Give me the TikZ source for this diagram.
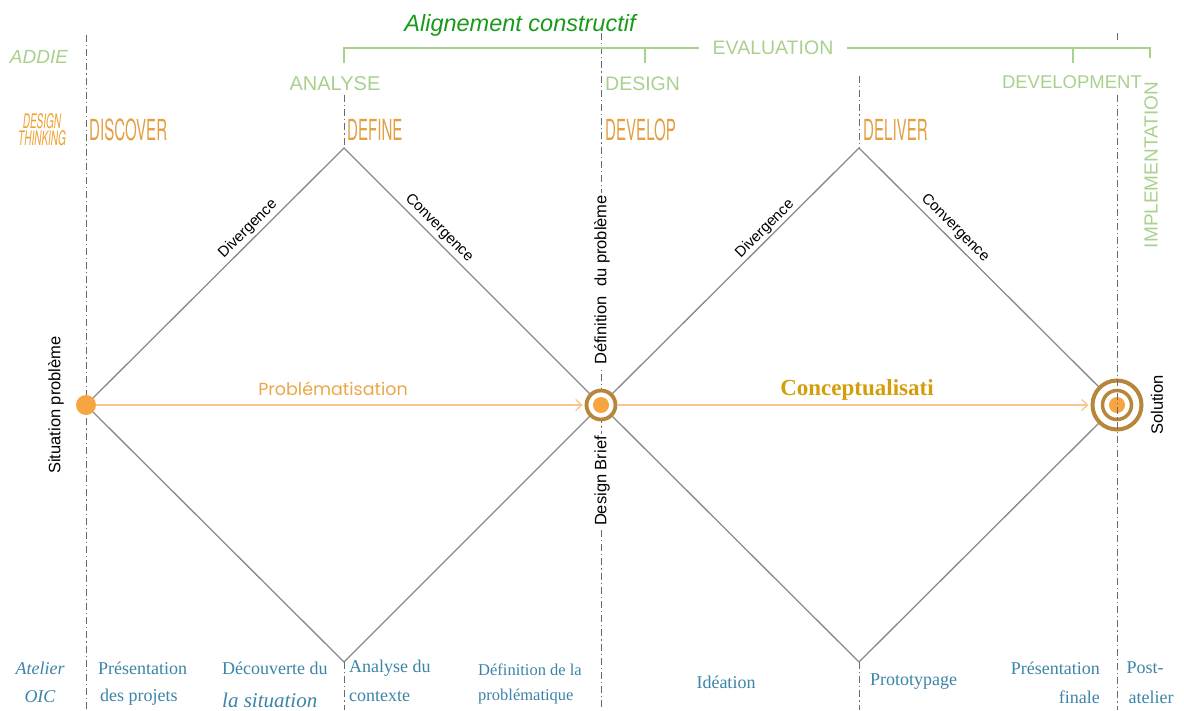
\documentclass[tikz,border=0pt]{standalone}
\usepackage{fontspec}
\usepackage{graphicx}
\setmainfont{Liberation Sans}
\newfontfamily\serifl{Liberation Serif}
\newfontfamily\heros{TeX Gyre Heros}
\newfontfamily\popp{Poppins}
\usetikzlibrary{arrows.meta}
\definecolor{lgreen}{HTML}{A9D18E}
\definecolor{dgreen}{HTML}{1A9A1A}
\definecolor{orng}{HTML}{F7A541}
\definecolor{headc}{HTML}{E3A043}
\definecolor{dtc}{HTML}{F0A030}
\definecolor{ringc}{HTML}{B8863B}
\definecolor{arrc}{HTML}{F6C68C}
\definecolor{probc}{HTML}{EBA848}
\definecolor{concc}{HTML}{D49E0A}
\definecolor{bluec}{HTML}{3C84A8}
\definecolor{edgec}{HTML}{8A8A8A}
\definecolor{dashc}{HTML}{6A6A6A}
\newcommand\fsz[1]{\fontsize{#1}{#1}\selectfont}
\newcommand\cond[2]{\scalebox{#1}[1]{#2}}
\begin{document}
\begin{tikzpicture}[x=1pt,y=-1pt,
  dd/.style={draw=dashc, line width=0.8pt, dash pattern=on 7pt off 3pt on 1.2pt off 3pt},
  edgeline/.style={draw=edgec, line width=1.3pt},
  brk/.style={draw=lgreen, line width=1.2pt},
  arr/.style={draw=arrc, line width=1.6pt, -{Straight Barb[length=6pt,width=11pt,line width=1.3pt]}},
  slbl/.style={font=\fsz{15}, inner sep=1pt},
  vlbl/.style={font=\fsz{16.5}, rotate=90, inner sep=2pt},
  hgreen/.style={text=lgreen, inner sep=0pt},
  head/.style={text=headc, inner sep=0pt, anchor=west},
  bot/.style={text=bluec, inner sep=0pt, font=\serifl\fsz{18}},
]
\useasboundingbox (0,0) rectangle (1184,710);
\fill[white] (0,0) rectangle (1184,710);

% dash-dot vertical lines
\draw[dd] (86,35) -- (86,710);
\draw[dd] (344,95) -- (344,148);
\draw[dd] (344,662) -- (344,710);
\draw[dd] (601,33) -- (601,710);
\draw[dd] (859,76) -- (859,148);
\draw[dd] (859,662) -- (859,710);

% diamond vertices
\coordinate (top1) at (344,148);
\coordinate (bot1) at (344,662);
\coordinate (top2) at (859,148);
\coordinate (bot2) at (859,662);
\coordinate (s0c) at (86,405);
\coordinate (t1cc) at (601,405);
\coordinate (t2cc) at (1117,405);

\draw[edgeline] (s0c) -- (top1) -- (t1cc) -- (bot1) -- cycle;
\draw[edgeline] (t1cc) -- (top2) -- (t2cc) -- (bot2) -- cycle;

% points
\node[circle, fill=orng, minimum size=20pt, inner sep=0pt] (s0) at (s0c) {};
\node[circle, draw=ringc, fill=white, line width=3.8pt, minimum size=29pt, inner sep=0pt] (t1) at (t1cc) {};
\node[circle, fill=orng, minimum size=16pt, inner sep=0pt] (t1c) at (t1cc) {};
\node[circle, draw=ringc, fill=white, line width=4pt, minimum size=49pt, inner sep=0pt] (t2) at (t2cc) {};
\node[circle, draw=ringc, fill=white, line width=3.5pt, minimum size=29pt, inner sep=0pt] (t2m) at (t2cc) {};
\node[circle, fill=orng, minimum size=16pt, inner sep=0pt] (t2c) at (t2cc) {};

\draw[dd] (1117,33) -- (1117,40);
\draw[dd] (1117,95) -- (1117,710);

% arrows
\draw[arr, shorten >=2pt] (s0) -- (t1);
\draw[arr, shorten >=2pt, shorten <=1pt] (t1) -- (t2);
\node[text=probc, font=\popp\fsz{17.5}, inner sep=0pt] (prob) at (333,389) {Problématisation};
\node[text=concc, font=\serifl\bfseries\fsz{23}, inner sep=0pt] (conc) at (857,390) {Conceptualisati};

% edge labels
\node[slbl, rotate=45] (div1) at (248,229) {Divergence};
\node[slbl, rotate=-45] (con1) at (439,228) {Convergence};
\node[slbl, rotate=45] (div2) at (765,229) {Divergence};
\node[slbl, rotate=-45] (con2) at (955,228) {Convergence};

% vertical labels
\node[vlbl] (sitp) at (56,405) {Situation problème};
\node[vlbl, fill=white] (defp) at (602,280) {Définition\ \ du problème};
\node[vlbl, fill=white] (dbr) at (602,481) {Design Brief};
\node[vlbl] (sol) at (1157,405) {Solution};

% left column
\node[hgreen, font=\itshape\fsz{19}] (addie) at (39,57) {ADDIE};
\node[text=dtc, inner sep=0pt, align=center] (dt) at (42,130)
  {\cond{0.5}{\heros\itshape\fsz{20}DESIGN}\\[1pt]\cond{0.5}{\heros\itshape\fsz{20}THINKING}};

% design thinking headings
\node[head] (disc) at (89,130) {\cond{0.52}{\heros\fsz{29}DISCOVER}};
\node[head] (defi) at (347,130) {\cond{0.52}{\heros\fsz{29}DEFINE}};
\node[head] (deve) at (605,130) {\cond{0.52}{\heros\fsz{29}DEVELOP}};
\node[head] (deli) at (863,130) {\cond{0.52}{\heros\fsz{29}DELIVER}};

% ADDIE headings
\node[hgreen, font=\fsz{20}] (anal) at (335,84) {ANALYSE};
\node[hgreen, font=\fsz{19.5}, anchor=west] (desi) at (605,84) {DESIGN};
\node[hgreen, font=\fsz{18.5}, anchor=east] (devm) at (1142,82) {DEVELOPMENT};
\node[hgreen, font=\fsz{19}, rotate=90] (impl) at (1151,165) {IMPLEMENTATION};

% evaluation bracket
\node[hgreen, font=\fsz{19.5}, inner xsep=13pt] (evl) at (773,48) {EVALUATION};
\coordinate (bA) at (344,48);
\coordinate (bA1) at (344,63);
\coordinate (bZ) at (1150,48);
\coordinate (bZ1) at (1150,58);
\coordinate (tD) at (645,48);
\coordinate (tD1) at (645,63);
\coordinate (tV) at (1073,48);
\coordinate (tV1) at (1073,63);
\draw[brk] (bA1) -- (bA) -- (evl.west);
\draw[brk] (evl.east) -- (bZ) -- (bZ1);
\draw[brk] (tD) -- (tD1);
\draw[brk] (tV) -- (tV1);

\node[text=dgreen, font=\itshape\fsz{23.5}, inner sep=0pt] (align) at (520,25) {Alignement constructif};

% bottom row
\node[bot, font=\serifl\itshape\fsz{18}] (at1) at (40,668) {Atelier};
\node[bot, font=\serifl\itshape\fsz{18}] (at2) at (40,697) {OIC};
\node[bot, anchor=west] (pr1) at (98,668) {Présentation};
\node[bot, anchor=west] (pr2) at (100,697) {des projets};
\node[bot, anchor=west] (dc1) at (222,668) {Découverte du};
\node[bot, anchor=west, font=\serifl\itshape\fsz{21}] (dc2) at (222,700) {la situation};
\node[bot, anchor=west] (an1) at (349,668) {Analyse du};
\node[bot, anchor=west] (an2) at (349,697) {contexte};
\node[bot, anchor=west, font=\serifl\fsz{16.5}] (df1) at (478,670) {Définition de la};
\node[bot, anchor=west, font=\serifl\fsz{16.5}] (df2) at (478,697) {problématique};
\node[bot] (ide) at (726,682) {Idéation};
\node[bot, anchor=west] (pro) at (870,682) {Prototypage};
\node[bot, anchor=east] (pf1) at (1100,668) {Présentation};
\node[bot, anchor=east] (pf2) at (1100,697) {finale};
\node[bot] (po1) at (1145,668) {Post-};
\node[bot] (po2) at (1151,697) {atelier};
\end{tikzpicture}
\end{document}
